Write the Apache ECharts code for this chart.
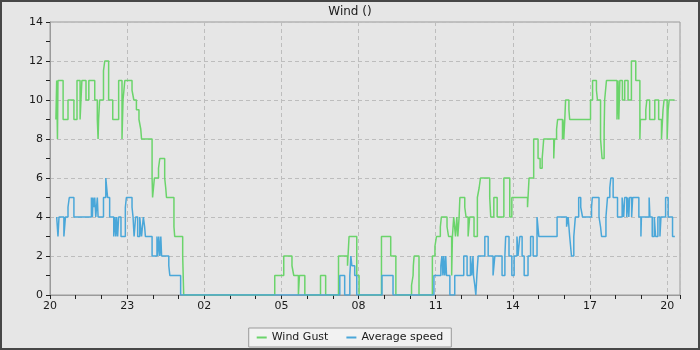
<!DOCTYPE html>
<html>
<head>
<meta charset="utf-8">
<script src="https://cdn.jsdelivr.net/npm/echarts@6/dist/echarts.min.js"></script>
<style>
	html, body { margin: 0; padding: 0; background: #e6e6e6; }
	#wrap { position: relative; width: 700px; height: 350px; }
	#chart { width: 700px; height: 350px; }
	#frame { position: absolute; left: 0; top: 0; width: 700px; height: 350px; box-sizing: border-box; border: 2px solid #474747; pointer-events: none; }
</style>
</head>
<body>
<div id="wrap">
	<div id="chart"></div>
	<div id="frame"></div>
</div>
<script>
// hours after 20:00 where the reading changes, and the new reading
var startHour = 20;
var gustHours = [0.23, 0.26, 0.29, 0.31, 0.51, 0.70, 0.93, 1.05, 1.17, 1.24, 1.40, 1.51, 1.74, 1.84, 1.87, 1.89, 1.93, 2.08, 2.13, 2.28,
	2.44, 2.67, 2.80, 2.84, 2.91, 3.19, 3.26, 3.36, 3.46, 3.53, 3.56, 3.97, 3.99, 4.06, 4.22, 4.27, 4.46, 4.50, 4.53, 4.82,
	4.85, 5.16, 5.20, 8.74, 9.09, 9.41, 9.48, 9.66, 9.70, 9.91, 10.52, 10.72, 11.22, 11.57, 11.63, 11.93, 12.02, 12.89, 13.25, 13.45,
	14.06, 14.12, 14.13, 14.16, 14.35, 14.87, 14.97, 15.03, 15.18, 15.22, 15.44, 15.50, 15.62, 15.65, 15.70, 15.77, 15.82, 15.86, 15.91, 15.94,
	16.13, 16.18, 16.26, 16.32, 16.49, 16.62, 16.69, 16.74, 17.10, 17.14, 17.26, 17.39, 17.65, 17.88, 17.96, 18.57, 18.63, 18.81, 18.98, 19.06,
	19.14, 19.20, 19.59, 19.62, 19.70, 19.74, 19.93, 19.95, 19.98, 20.02, 20.05, 20.18, 20.21, 21.02, 21.10, 21.25, 21.29, 21.41, 21.47, 21.55,
	21.57, 21.64, 22.05, 22.09, 22.12, 22.16, 22.26, 22.35, 22.48, 22.61, 22.78, 22.94, 22.96, 23.17, 23.21, 23.32, 23.52, 23.67, 23.78, 23.84,
	23.88, 24.00, 24.04, 24.08, 24.29];
var gustSpeed = [9, 11, 8, 11, 9, 10, 9, 11, 9, 11, 10, 11, 10, 9, 8, 9, 10, 11.5, 12, 10,
	9, 11, 8, 10, 11, 10.5, 10, 9.5, 9, 8.5, 8, 6, 5, 6, 6.5, 7, 6, 5.5, 5, 3.5,
	3, 2, 0, 1, 2, 1.5, 1, 0, 1, 0, 1, 0, 2, 1.5, 3, 1, 0, 3, 2, 0,
	0.5, 1, 1.5, 2, 0, 2, 2.5, 3, 3.5, 4, 3.5, 3, 1, 3, 4, 3, 4, 3, 4, 5,
	4.5, 4, 3, 4, 3, 5, 5.5, 6, 5, 4, 5, 4, 6, 4, 5, 4.5, 6, 8, 7, 6.5,
	7, 8, 7, 8, 8.5, 9, 8, 9, 8, 9, 10, 9.5, 9, 10, 11, 10.5, 10, 8, 7, 8.5,
	10, 11, 9, 11, 9, 11, 10, 11, 10, 12, 11, 8, 9, 9.5, 10, 9, 10, 9, 8, 9.5,
	10, 8, 9.5, 10, 10];
var avgHours = [0.26, 0.31, 0.35, 0.54, 0.60, 0.70, 0.75, 0.93, 1.61, 1.65, 1.67, 1.71, 1.74, 1.78, 1.84, 1.87, 2.08, 2.17, 2.24, 2.32,
	2.48, 2.52, 2.56, 2.59, 2.63, 2.67, 2.76, 2.93, 2.97, 3.19, 3.23, 3.27, 3.33, 3.41, 3.49, 3.56, 3.63, 3.68, 3.71, 3.97,
	4.16, 4.19, 4.23, 4.27, 4.31, 4.34, 4.62, 4.66, 5.08, 11.27, 11.46, 11.66, 11.70, 11.74, 11.85, 11.93, 12.91, 13.34, 14.93, 15.20,
	15.24, 15.28, 15.31, 15.35, 15.39, 15.42, 15.55, 15.74, 16.09, 16.22, 16.35, 16.40, 16.45, 16.47, 16.52, 16.56, 16.60, 16.65, 16.91, 17.04,
	17.23, 17.30, 17.58, 17.69, 17.72, 17.85, 17.96, 18.05, 18.16, 18.20, 18.27, 18.36, 18.44, 18.59, 18.69, 18.79, 18.94, 19.01, 19.72, 20.09,
	20.15, 20.21, 20.28, 20.37, 20.43, 20.56, 20.64, 20.71, 21.06, 21.09, 21.35, 21.41, 21.45, 21.62, 21.68, 21.77, 21.81, 21.90, 22.07, 22.25,
	22.31, 22.35, 22.43, 22.47, 22.51, 22.54, 22.62, 22.66, 22.90, 22.98, 23.00, 23.30, 23.33, 23.42, 23.50, 23.55, 23.64, 23.72, 23.76, 23.94,
	24.04, 24.21, 24.30];
var avgSpeed = [4, 3, 4, 3, 4, 4.5, 5, 4, 5, 4, 5, 4.5, 5, 4, 5, 4, 5, 6, 5, 4,
	3, 4, 3, 4, 3, 4, 3, 4.5, 5, 4.5, 4, 3, 4, 3, 4, 3, 4, 3.5, 3, 2,
	3, 2, 3, 2, 3, 2, 1.5, 1, 0, 1, 0, 1, 2, 1.5, 1, 0, 1, 0, 1, 1.5,
	2, 1, 2, 1, 2, 1, 0, 1, 2, 1, 2, 1, 2, 1, 0.5, 0, 1, 2, 3, 2,
	1, 2, 1, 2, 3, 2, 1, 2, 3, 2, 3, 2, 1, 2, 3, 2, 4, 3, 4, 3.5,
	4, 3, 2, 3, 4, 5, 4.5, 4, 4.5, 5, 4, 3.5, 3, 4, 5, 5.5, 6, 5, 4, 5,
	4, 5, 4, 5, 4, 5, 4, 5, 4, 3, 4, 5, 4, 3, 4, 3, 4, 3, 4, 5,
	4, 3, 3];

function pairs(hours, vals) {
	return hours.map(function (h, i) { return [h, vals[i]]; });
}

var myChart = echarts.init(document.getElementById('chart'));
var fontFam = 'DejaVu Sans';
var option = {
	animation: false,
	backgroundColor: '#e6e6e6',
	color: ['#6bd46b', '#4aa7d9'],
	textStyle: { fontFamily: fontFam },
	title: {
		text: 'Wind ()',
		left: 'center',
		top: 1,
		textStyle: { fontSize: 12, fontWeight: 'normal', color: '#1a1a1a', fontFamily: fontFam }
	},
	legend: {
		bottom: 3,
		left: 'center',
		backgroundColor: '#f2f2f2',
		borderColor: '#9a9a9a',
		borderWidth: 1,
		borderRadius: 0,
		padding: [4, 8],
		itemGap: 18,
		itemWidth: 10,
		itemHeight: 2,
		icon: 'rect',
		textStyle: { fontSize: 11, color: '#1a1a1a', fontFamily: fontFam },
		data: ['Wind Gust', 'Average speed']
	},
	grid: {
		left: 50,
		right: 20,
		top: 22,
		bottom: 55,
		show: true,
		borderColor: '#9a9a9a',
		borderWidth: 1,
		backgroundColor: 'transparent'
	},
	xAxis: [{
		type: 'value',
		min: 0,
		max: 24.5,
		interval: 3,
		axisLine: { show: true, lineStyle: { color: '#9a9a9a' } },
		axisTick: { show: true, length: 4, lineStyle: { color: '#222' } },
		axisLabel: {
			color: '#1a1a1a',
			fontSize: 11,
			margin: 6,
			showMaxLabel: false,
			formatter: function (v) {
				if (v % 3 !== 0) return '';
				var h = (startHour + v) % 24;
				return (h < 10 ? '0' : '') + h;
			}
		},
		splitLine: { show: true, lineStyle: { color: '#bdbdbd', type: [4, 3] } }
	}, {
		// hourly ticks only
		type: 'value',
		position: 'bottom',
		min: 0,
		max: 24.5,
		interval: 1,
		axisLine: { show: false },
		axisTick: { show: true, length: 4, lineStyle: { color: '#222' } },
		axisLabel: { show: false },
		splitLine: { show: false }
	}],
	yAxis: {
		type: 'value',
		min: 0,
		max: 14,
		interval: 2,
		axisLine: { show: true, lineStyle: { color: '#9a9a9a' } },
		axisTick: { show: true, length: 4, lineStyle: { color: '#222' } },
		minorTick: { show: true, splitNumber: 2, length: 4, lineStyle: { color: '#222' } },
		axisLabel: { color: '#1a1a1a', fontSize: 11, margin: 7 },
		splitLine: { show: true, lineStyle: { color: '#bdbdbd', type: [4, 3] } }
	},
	series: [{
		name: 'Wind Gust',
		type: 'line',
		step: 'end',
		symbol: 'none',
		lineStyle: { width: 1.5 },
		data: pairs(gustHours, gustSpeed)
	}, {
		name: 'Average speed',
		type: 'line',
		step: 'end',
		symbol: 'none',
		lineStyle: { width: 1.5 },
		data: pairs(avgHours, avgSpeed)
	}]
};
myChart.setOption(option);
</script>
</body>
</html>
